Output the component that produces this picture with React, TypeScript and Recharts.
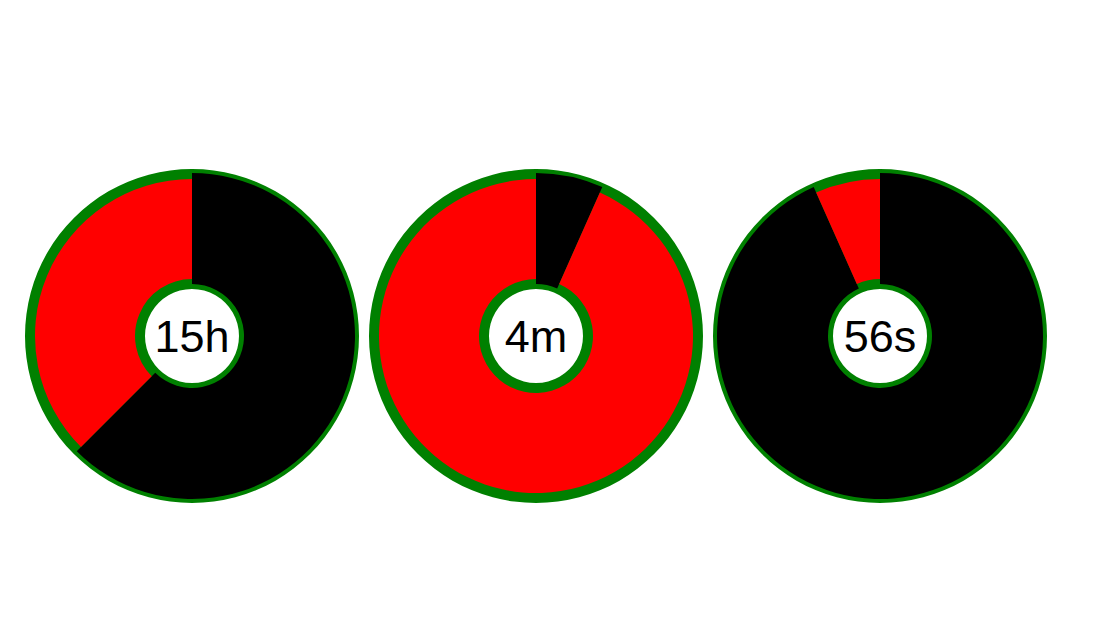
import { PieChart, Pie, Cell, Label } from "recharts";

const labels = ["15h", "4m", "56s"];
const elapsed = [15, 4, 56];
const periods = [24, 60, 60];

const GREEN = "#008000";
const RED = "#ff0000";
const BLACK = "#000000";

// layout
const CENTERS_X = [192, 536, 880];
const CENTER_Y = 336;

function clockData(i: number) {
  return [
    { name: "elapsed", value: elapsed[i] },
    { name: "remaining", value: periods[i] - elapsed[i] },
  ];
}

export default function App() {
  return (
    <div style={{ position: "absolute", left: 0, top: 0, background: "#fff" }}>
      <PieChart width={1104} height={626} margin={{ top: 0, right: 0, bottom: 0, left: 0 }}>
        {labels.map((lbl, i) => {
          const data = clockData(i);
          return [
            <Pie
              key={`ring-${i}`}
              data={[{ name: "ring", value: 1 }]}
              dataKey="value"
              cx={CENTERS_X[i]}
              cy={CENTER_Y}
              innerRadius={47}
              outerRadius={167}
              startAngle={90}
              endAngle={-270}
              stroke="none"
              fill={GREEN}
              isAnimationActive={false}
            />,
            <Pie
              key={`black-${i}`}
              data={data}
              dataKey="value"
              cx={CENTERS_X[i]}
              cy={CENTER_Y}
              innerRadius={52}
              outerRadius={163}
              startAngle={90}
              endAngle={-270}
              stroke="none"
              isAnimationActive={false}
            >
              {data.map((d) => (
                <Cell key={d.name} fill={d.name === "elapsed" ? BLACK : "none"} />
              ))}
            </Pie>,
            <Pie
              key={`red-${i}`}
              data={data}
              dataKey="value"
              cx={CENTERS_X[i]}
              cy={CENTER_Y}
              innerRadius={57}
              outerRadius={157}
              startAngle={90}
              endAngle={-270}
              stroke="none"
              isAnimationActive={false}
            >
              {data.map((d) => (
                <Cell key={d.name} fill={d.name === "remaining" ? RED : "none"} />
              ))}
              <Label
                position="center"
                content={() => (
                  <text
                    x={CENTERS_X[i]}
                    y={CENTER_Y + 16}
                    textAnchor="middle"
                    fill="#000"
                    fontSize={45}
                    fontFamily="Liberation Sans, Arial, sans-serif"
                  >
                    {lbl}
                  </text>
                )}
              />
            </Pie>,
          ];
        })}
      </PieChart>
    </div>
  );
}
